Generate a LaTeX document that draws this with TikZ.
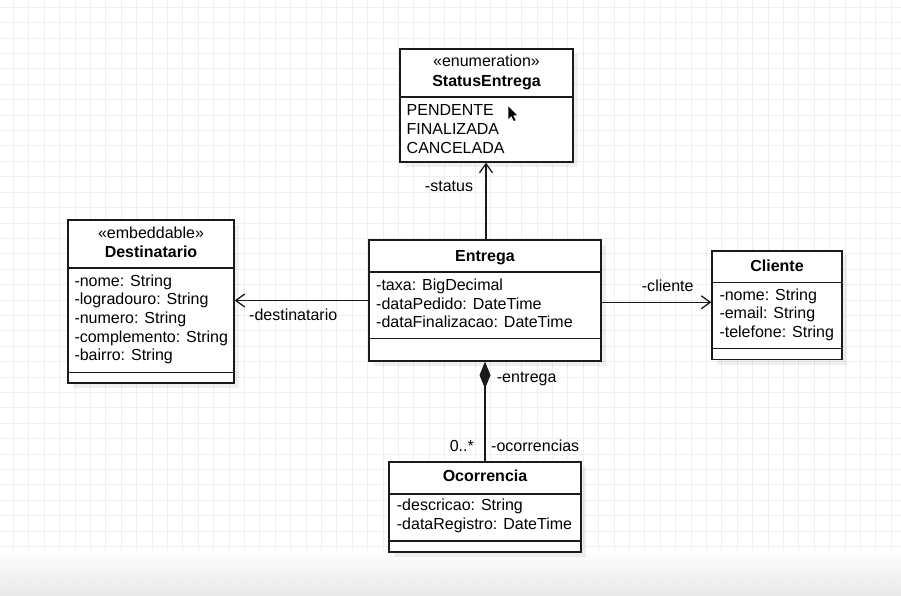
\documentclass[tikz,border=0pt]{standalone}
\usepackage{fontspec}
\setmainfont{Liberation Sans}
\usetikzlibrary{arrows.meta,shadows}
\definecolor{gridc}{HTML}{EFEFEF}
\definecolor{linec}{HTML}{1A1A1A}
\begin{document}
\begin{tikzpicture}[x=1pt,y=-1pt,
  cls/.style={draw=linec, line width=1.3pt, fill=white, rectangle, inner sep=0pt,
    drop shadow={shadow xshift=5pt, shadow yshift=-5pt, opacity=0.06, fill=black}},
  sepline/.style={draw=linec, line width=1.3pt},
  txt/.style={font=\fontsize{16}{19}\selectfont, inner sep=0pt, text=black},
  ttl/.style={txt, font=\fontsize{16}{19}\selectfont\bfseries},
  assoc/.style={draw=linec, line width=1.3pt, -{Straight Barb[length=9pt,width=13pt,line width=1.3pt]}},
  compo/.style={draw=linec, line width=1.3pt, -{Diamond[length=27pt,width=11pt]}}
]
\useasboundingbox (0,0) rectangle (901,596);
\fill[white] (0,0) rectangle (901,596);
% grid
\foreach \k in {0,...,58} \draw[gridc, line width=0.8pt] (13.3+15.4*\k,0) -- (13.3+15.4*\k,596);
\foreach \k in {0,...,38} \draw[gridc, line width=0.8pt] (0,7.3+15.4*\k) -- (901,7.3+15.4*\k);
% bottom fade
\shade[top color=white, bottom color=black!11, opacity=0.8] (0,550) rectangle (901,596);

% boxes
\node[cls, minimum width=173pt, minimum height=113pt] (status) at (486.5,105.5) {};
\node[cls, minimum width=232pt, minimum height=121pt] (entrega) at (485,300.5) {};
\node[cls, minimum width=166pt, minimum height=163pt] (dest) at (151,301.5) {};
\node[cls, minimum width=130pt, minimum height=108.5pt] (cliente) at (777,305.25) {};
\node[cls, minimum width=192pt, minimum height=90pt] (ocor) at (485,507) {};

% separators
\draw[sepline] (status.west |- 0,97) -- (status.east |- 0,97);
\draw[sepline] (entrega.west |- 0,272) -- (entrega.east |- 0,272);
\draw[sepline] (entrega.west |- 0,338.5) -- (entrega.east |- 0,338.5);
\draw[sepline] (dest.west |- 0,268) -- (dest.east |- 0,268);
\draw[sepline] (dest.west |- 0,372.5) -- (dest.east |- 0,372.5);
\draw[sepline] (cliente.west |- 0,282.5) -- (cliente.east |- 0,282.5);
\draw[sepline] (cliente.west |- 0,348.5) -- (cliente.east |- 0,348.5);
\draw[sepline] (ocor.west |- 0,494) -- (ocor.east |- 0,494);
\draw[sepline] (ocor.west |- 0,541) -- (ocor.east |- 0,541);

% StatusEntrega texts
\node[txt, anchor=base] (st1) at (486.5,67) {«enumeration»};
\node[ttl, anchor=base] (st2) at (486.5,86.7) {StatusEntrega};
\node[txt, anchor=base west] (st3) at (406.5,116) {PENDENTE};
\node[txt, anchor=base west] (st4) at (406.5,134.7) {FINALIZADA};
\node[txt, anchor=base west] (st5) at (406.5,153.4) {CANCELADA};

% Entrega texts
\node[ttl, anchor=base] (en1) at (485,261.7) {Entrega};
\node[txt, anchor=base west] (en2) at (376,290.5) {-taxa: BigDecimal};
\node[txt, anchor=base west] (en3) at (376,309) {-dataPedido: DateTime};
\node[txt, anchor=base west] (en4) at (376,327.5) {-dataFinalizacao: DateTime};

% Destinatario texts
\node[txt, anchor=base] (de1) at (151,238.3) {«embeddable»};
\node[ttl, anchor=base] (de2) at (151,257.3) {Destinatario};
\node[txt, anchor=base west] (de3) at (74.3,286) {-nome: String};
\node[txt, anchor=base west] (de4) at (74.3,304.7) {-logradouro: String};
\node[txt, anchor=base west] (de5) at (74.3,323.4) {-numero: String};
\node[txt, anchor=base west] (de6) at (74.3,342.1) {-complemento: String};
\node[txt, anchor=base west] (de7) at (74.3,360.8) {-bairro: String};

% Cliente texts
\node[ttl, anchor=base] (cl1) at (777,271) {Cliente};
\node[txt, anchor=base west] (cl2) at (719.3,300) {-nome: String};
\node[txt, anchor=base west] (cl3) at (719.3,318.7) {-email: String};
\node[txt, anchor=base west] (cl4) at (719.3,337.4) {-telefone: String};

% Ocorrencia texts
\node[ttl, anchor=base] (oc1) at (485,481.7) {Ocorrencia};
\node[txt, anchor=base west] (oc2) at (396.7,510.7) {-descricao: String};
\node[txt, anchor=base west] (oc3) at (396.7,529.4) {-dataRegistro: DateTime};

% connectors
\draw[assoc] ([xshift=1pt]entrega.north) -- ([xshift=1pt]entrega.north |- status.south);
\draw[assoc] (entrega.west) -- (entrega.west -| dest.east);
\draw[assoc] ([yshift=-1.8pt]entrega.east) -- ([yshift=-1.8pt]entrega.east -| cliente.west);
\draw[compo] (ocor.north) -- (entrega.south);

% connector labels
\node[txt, anchor=base] (lstatus) at (449,191.7) {-status};
\node[txt, anchor=base west] (ldest) at (249,320) {-destinatario};
\node[txt, anchor=base] (lcli) at (667.7,291) {-cliente};
\node[txt, anchor=base west] (lent) at (496.7,382.7) {-entrega};
\node[txt, anchor=base east] (lmul) at (474,451) {0..*};
\node[txt, anchor=base west] (locc) at (491,451) {-ocorrencias};

% mouse cursor
\fill[black] (508.3,106.3) -- (508.3,119) -- (511.3,116) -- (513.8,121) -- (515.6,120.2) -- (513.1,115.3) -- (517,115.3) -- cycle;
\end{tikzpicture}
\end{document}
